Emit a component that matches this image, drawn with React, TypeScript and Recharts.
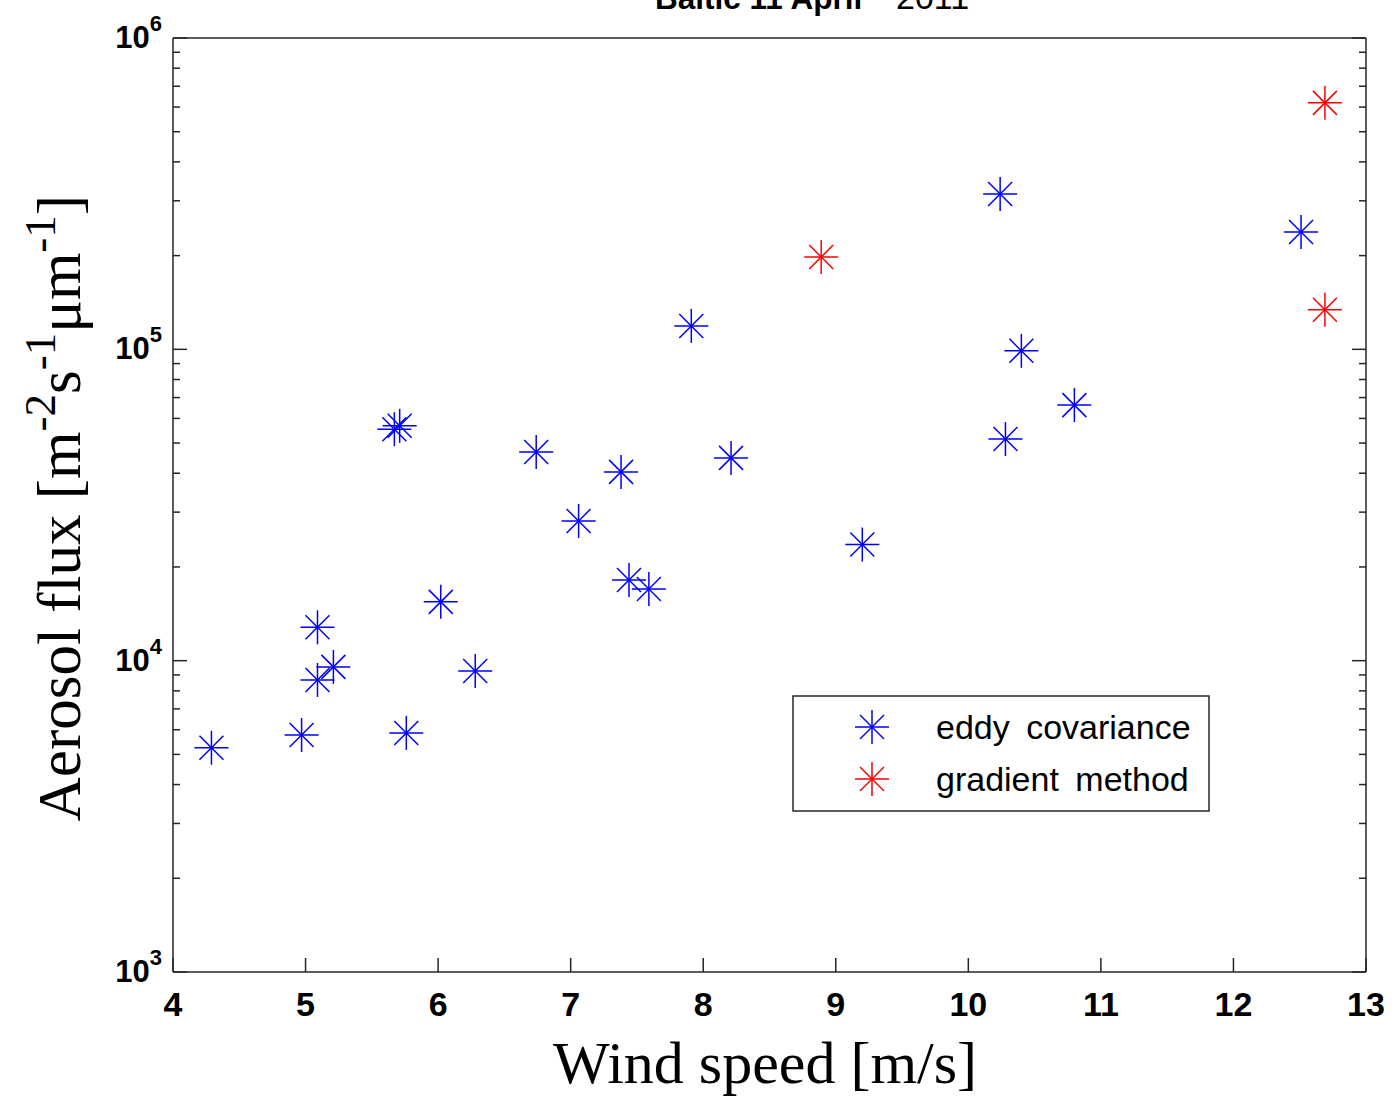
import { ScatterChart, Scatter, XAxis, YAxis, Legend } from 'recharts';

// eddy covariance measurements
const eddyWind = [4.29, 4.97, 5.09, 5.09, 5.21, 5.67, 5.71, 5.76, 6.02, 6.28, 6.74, 7.06, 7.38, 7.44, 7.59, 7.91, 8.21, 9.2, 10.24, 10.28, 10.4, 10.8, 12.51];
const eddyFlux = [5250, 5770, 12800, 8670, 9550, 55400, 56800, 5860, 15450, 9270, 46800, 28100, 40400, 18150, 17000, 118900, 44800, 23600, 315500, 51500, 98900, 66200, 238000];

// gradient method
const gradWind = [8.89, 12.69, 12.69];
const gradFlux = [198000, 619000, 134000];

const xTicks = [4, 5, 6, 7, 8, 9, 10, 11, 12, 13];
const decades = [1000, 10000, 100000];
const mantissas = [1, 2, 3, 4, 5, 6, 7, 8, 9];
const yTicks = [...decades.flatMap((d) => mantissas.map((m) => m * d)), 1000000];

const eddyData = eddyWind.map((w, i) => ({ wind: w, flux: eddyFlux[i] }));
const gradData = gradWind.map((w, i) => ({ wind: w, flux: gradFlux[i] }));

const AXIS = '#262626';
const SANS = '"Liberation Sans", Arial, sans-serif';
const SERIF = '"Liberation Serif", "Times New Roman", serif';

function Star({ cx, cy, color }: { cx: number; cy: number; color: string }) {
  const r = 17;
  const d = 12;
  return (
    <g stroke={color} strokeWidth={1.5}>
      <line x1={cx - r} y1={cy} x2={cx + r} y2={cy} />
      <line x1={cx} y1={cy - r} x2={cx} y2={cy + r} />
      <line x1={cx - d} y1={cy - d} x2={cx + d} y2={cy + d} />
      <line x1={cx - d} y1={cy + d} x2={cx + d} y2={cy - d} />
    </g>
  );
}

const isMajor = (v: number) => {
  const e = Math.log10(v);
  return Math.abs(e - Math.round(e)) < 1e-9;
};

function LeftTick(props: any) {
  const { x, y, payload } = props;
  const major = isMajor(payload.value);
  const len = major ? 14 : 7;
  return (
    <g>
      <line x1={x} y1={y} x2={x + len} y2={y} stroke={AXIS} strokeWidth={1.5} />
      {major && (
        <text x={x - 11} y={y + 10} textAnchor="end" fontFamily={SANS} fontWeight="bold" fontSize={31} fill="#000">
          10
          <tspan dy={-17} fontSize={22}>{Math.round(Math.log10(payload.value))}</tspan>
        </text>
      )}
    </g>
  );
}

function RightTick(props: any) {
  const { x, y, payload } = props;
  const len = isMajor(payload.value) ? 14 : 7;
  return <line x1={x} y1={y} x2={x - len} y2={y} stroke={AXIS} strokeWidth={1.5} />;
}

function BottomTick(props: any) {
  const { x, y, payload } = props;
  return (
    <g>
      <line x1={x} y1={y} x2={x} y2={y - 14} stroke={AXIS} strokeWidth={1.5} />
      <text x={x} y={y + 44} textAnchor="middle" fontFamily={SANS} fontWeight="bold" fontSize={34} fill="#000">
        {payload.value}
      </text>
    </g>
  );
}

function TopTick(props: any) {
  const { x, y } = props;
  return <line x1={x} y1={y} x2={x} y2={y + 14} stroke={AXIS} strokeWidth={1.5} />;
}

function LegendBox() {
  return (
    <svg width={418} height={117} style={{ display: 'block' }}>
      <rect x={1} y={1} width={416} height={115} fill="#fff" stroke={AXIS} strokeWidth={1.5} />
      <Star cx={80} cy={32} color="#0000ff" />
      <Star cx={80} cy={84} color="#ff0000" />
      <text x={144} y={44} fontFamily={SANS} fontSize={34} wordSpacing={7} fill="#000">
        eddy covariance
      </text>
      <text x={144} y={96} fontFamily={SANS} fontSize={34} wordSpacing={7} fill="#000">
        gradient method
      </text>
    </svg>
  );
}

export default function App() {
  return (
    <div style={{ position: 'absolute', left: 0, top: 0, background: '#fff' }}>
      <ScatterChart width={1395} height={1099} margin={{ top: 37, right: 28, bottom: 126, left: 172 }}>
        <XAxis
          dataKey="wind"
          type="number"
          domain={[4, 13]}
          ticks={xTicks}
          interval={0}
          height={1}
          tickSize={0}
          tickMargin={0}
          tickLine={false}
          axisLine={{ stroke: AXIS, strokeWidth: 1.5 }}
          tick={BottomTick}
          allowDataOverflow
          label={{
            content: () => (
              <text x={765} y={1083} textAnchor="middle" fontFamily={SERIF} fontSize={60} fill="#000">
                Wind speed [m/s]
              </text>
            ),
          }}
        />
        <XAxis
          xAxisId="top"
          orientation="top"
          type="number"
          domain={[4, 13]}
          ticks={xTicks}
          interval={0}
          height={1}
          tickSize={0}
          tickMargin={0}
          tickLine={false}
          axisLine={{ stroke: AXIS, strokeWidth: 1.5 }}
          tick={TopTick}
          allowDataOverflow
          label={{
            content: () => (
              <text x={655} y={9} fontFamily={SANS} fill="#000">
                <tspan fontWeight="bold" fontSize={31.5}>Baltic 11 April</tspan>
                <tspan x={896} fontSize={34}>2011</tspan>
              </text>
            ),
          }}
        />
        <YAxis
          dataKey="flux"
          type="number"
          scale="log"
          domain={[1000, 1000000]}
          ticks={yTicks}
          interval={0}
          width={1}
          tickSize={0}
          tickMargin={0}
          tickLine={false}
          axisLine={{ stroke: AXIS, strokeWidth: 1.5 }}
          tick={LeftTick}
          allowDataOverflow
          label={{
            content: () => (
              <text
                x={80}
                y={508}
                transform="rotate(-90 80 508)"
                textAnchor="middle"
                fontFamily={SERIF}
                fontSize={61}
                fill="#000"
              >
                Aerosol flux [m
                <tspan dy={-25} fontSize={45}>-2</tspan>
                <tspan dy={25}>s</tspan>
                <tspan dy={-25} fontSize={45}>-1</tspan>
                <tspan dy={25}>μm</tspan>
                <tspan dy={-25} fontSize={45}>-1</tspan>
                <tspan dy={25}>]</tspan>
              </text>
            ),
          }}
        />
        <YAxis
          yAxisId="right"
          orientation="right"
          type="number"
          scale="log"
          domain={[1000, 1000000]}
          ticks={yTicks}
          interval={0}
          width={1}
          tickSize={0}
          tickMargin={0}
          tickLine={false}
          axisLine={{ stroke: AXIS, strokeWidth: 1.5 }}
          tick={RightTick}
          allowDataOverflow
        />
        <Legend
          layout="horizontal"
          verticalAlign="middle"
          align="center"
          wrapperStyle={{ left: 792, top: 695, width: 418, height: 117 }}
          content={() => <LegendBox />}
        />
        <Scatter
          name="eddy covariance"
          data={eddyData}
          isAnimationActive={false}
          shape={(p: any) => <Star cx={p.cx} cy={p.cy} color="#0000ff" />}
        />
        <Scatter
          name="gradient method"
          data={gradData}
          isAnimationActive={false}
          shape={(p: any) => <Star cx={p.cx} cy={p.cy} color="#ff0000" />}
        />
      </ScatterChart>
    </div>
  );
}
